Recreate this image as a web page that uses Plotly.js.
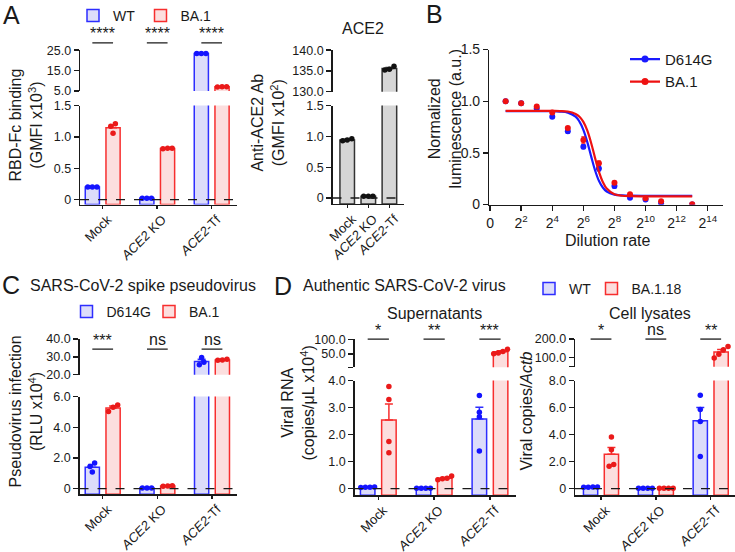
<!DOCTYPE html>
<html><head><meta charset="utf-8">
<script src="https://cdn.plot.ly/plotly-3.0.1.min.js"></script>
<style>html,body{margin:0;padding:0;background:#fff;}#chart{width:735px;height:552px;}</style>
</head><body><div id="chart"></div>
<script>
// ================= DATA =================
const groupCats = ['Mock', '<i>ACE2</i> KO', '<i>ACE2</i>-Tf'];

// A (left): RBD-Fc binding, GMFI x10^3, replicates per group
const rbdWT  = [[0.20, 0.20, 0.20], [0.02, 0.02, 0.02], [23.3, 23.4, 23.3]];
const rbdBA1 = [[1.21, 1.17, 1.06], [0.82, 0.81, 0.82], [7.1, 7.0, 7.1]];
const sigA = ['****', '****', '****'];

// A (right): anti-ACE2 Ab, GMFI x10^2
const ace2Ab = [[0.96, 0.94, 0.93], [0.03, 0.03, 0.03], [136.1, 135.4, 135.2]];

// B: normalized luminescence vs dilution (exponent of 2)
const dilutionExp = [1, 2, 3, 4, 5, 6, 7, 8, 9, 10, 11, 13];
const lumD614G    = [1.00, 0.98, 0.93, 0.85, 0.71, 0.56, 0.35, 0.18, 0.065, 0.05, 0.01, 0.0];
const lumD614GErr = [0.005, 0.005, 0.01, 0.015, 0.02, 0.02, 0.025, 0.02, 0.01, 0.01, 0.01, 0.0];
const lumBA1      = [1.00, 0.98, 0.95, 0.89, 0.74, 0.625, 0.40, 0.21, 0.10, 0.06, 0.032, 0.004];
const lumBA1Err   = [0.005, 0.005, 0.01, 0.01, 0.015, 0.03, 0.02, 0.015, 0.01, 0.01, 0.01, 0.0];
const fitExp      = [1, 2, 3, 4, 4.5, 5, 5.5, 5.75, 6, 6.25, 6.5, 6.75, 7, 7.25, 7.5, 8, 8.5, 9, 10, 11, 12, 13];
const fitD614G    = [0.904, 0.904, 0.904, 0.903, 0.900, 0.890, 0.851, 0.803, 0.723, 0.607, 0.466, 0.332, 0.230, 0.165, 0.126, 0.096, 0.089, 0.086, 0.085, 0.085, 0.085, 0.085];
const fitBA1      = [0.907, 0.907, 0.907, 0.906, 0.905, 0.900, 0.877, 0.850, 0.800, 0.717, 0.596, 0.452, 0.319, 0.219, 0.155, 0.100, 0.085, 0.081, 0.080, 0.080, 0.080, 0.080];
const dilutionTicks = [0, 2, 4, 6, 8, 10, 12, 14];

// C: pseudovirus infection, RLU x10^4
const pvD614G = [[1.08, 1.66, 1.44], [0.04, 0.04, 0.04], [25.6, 29.7, 27.0]];
const pvBA1   = [[5.45, 5.30, 5.03], [0.15, 0.18, 0.16], [28.6, 28.2, 28.1]];
const sigC = ['***', 'ns', 'ns'];

// D: authentic virus, supernatants (copies/uL x10^4) and cell lysates (copies/Actb)
const supWT = [[0.05, 0.04, 0.06, 0.05], [0.01, 0.01, 0.01, 0.01], [3.45, 2.83, 2.66, 1.39]];
const supBA = [[3.78, 3.30, 1.74, 1.33], [0.33, 0.36, 0.38, 0.47], [59, 51, 54, 66]];
const sigSup = ['*', '**', '***'];
const lysWT = [[0.10, 0.12, 0.10, 0.12], [0.02, 0.02, 0.02, 0.02], [6.91, 5.86, 4.98, 2.37]];
const lysBA = [[3.83, 2.88, 1.66, 1.78], [0.03, 0.03, 0.03, 0.03], [97, 160, 118, 142]];
const sigLys = ['*', 'ns', '**'];

// ================= STYLE / LAYOUT =================
const W = 735, H = 552;
const X = p => p / W, Y = p => 1 - p / H;
const FONT = 'Arial, "Liberation Sans", Helvetica, sans-serif';
const INK = '#1a1a1a';
const blue = {line: '#2d2dff', fill: '#dcdcfa', dot: '#1414ff'};
const red  = {line: '#f72e2e', fill: '#fcdede', dot: '#ea1a1a'};
const grey = {line: '#333333', fill: '#d6d6d6', dot: '#111111'};

const mean = a => a.reduce((s, v) => s + v, 0) / a.length;
const sem = a => { const m = mean(a); const v = a.reduce((s, x) => s + (x - m) * (x - m), 0) / (a.length - 1); return Math.sqrt(v / a.length); };
const axName = r => r[0] + 'axis' + r.slice(1);

function swarmX(vals, center, pxY, pxX, gap) {
  const order = vals.map((v, i) => i).sort((a, b) => vals[a] - vals[b]);
  const xs = new Array(vals.length).fill(center);
  let cl = [order[0]];
  const flush = () => cl.forEach((idx, j) => { xs[idx] = center + (j - (cl.length - 1) / 2) * gap / pxX; });
  for (let k = 1; k < order.length; k++) {
    if ((vals[order[k]] - vals[order[k - 1]]) * pxY < gap) cl.push(order[k]);
    else { flush(); cl = [order[k]]; }
  }
  flush();
  return xs;
}

const axisBase = {showgrid: false, zeroline: false, showline: true, linecolor: INK, linewidth: 1.4,
  ticks: 'outside', tickcolor: INK, tickwidth: 1.4, ticklen: 5, fixedrange: true,
  tickfont: {family: FONT, size: 12.5, color: INK}};

const layout = {width: W, height: H, margin: {l: 0, r: 0, t: 0, b: 0}, paper_bgcolor: '#fff', plot_bgcolor: 'rgba(0,0,0,0)',
  font: {family: FONT, color: INK, size: 13}, barmode: 'overlay', showlegend: true, annotations: [], shapes: []};
const traces = [];

const barPanels = [
  {x: 'x', lo: 'y', hi: 'y2', legends: ['legend', 'legend5'], xdom: [80, 236.7], xr: [-0.4165, 2.459],
   loS: {dom: [203.3, 104], r: [-0.08, 1.5], tv: [0, 0.5, 1, 1.5], tt: ['0', '0.5', '1.0', '1.5']},
   hiS: {dom: [89.3, 48.3], r: [5, 25], tv: [5, 15, 25], tt: ['5.0', '15.0', '25.0']},
   series: [{name: 'WT', data: rbdWT, col: blue}, {name: 'BA.1', data: rbdBA1, col: red}], sig: sigA, sigY: 41},
  {x: 'x2', lo: 'y3', hi: 'y4', legends: null, xdom: [332.5, 404], xr: [-0.697, 2.692],
   loS: {dom: [202.7, 104], r: [-0.097, 1.5], tv: [0, 0.5, 1, 1.5], tt: ['0', '0.5', '1.0', '1.5']},
   hiS: {dom: [90, 48.3], r: [130, 140], tv: [130, 135, 140], tt: ['130.0', '135.0', '140.0']},
   series: [{name: 'ACE2', data: ace2Ab, col: grey}], sig: null},
  {x: 'x4', lo: 'y6', hi: 'y7', legends: ['legend3', 'legend6'], xdom: [79.5, 236.7], xr: [-0.4245, 2.452],
   loS: {dom: [494, 396], r: [-0.37, 6], tv: [0, 2, 4, 6], tt: ['0', '2.0', '4.0', '6.0']},
   hiS: {dom: [374, 338.3], r: [20, 40], tv: [20, 30, 40], tt: ['20.0', '30.0', '40.0']},
   series: [{name: 'D614G', data: pvD614G, col: blue}, {name: 'BA.1', data: pvBA1, col: red}], sig: sigC, sigY: 348.3},
  {x: 'x5', lo: 'y8', hi: 'y9', legends: ['legend4', 'legend7'], xdom: [354.5, 516], xr: [-0.426, 2.466],
   loS: {dom: [495, 380], r: [-0.245, 4], tv: [0, 1, 2, 3, 4], tt: ['0', '1.0', '2.0', '3.0', '4.0']},
   hiS: {dom: [366.7, 338.5], r: [5, 100], tv: [5, 50, 100], tt: [' ', '50.0', '100.0']},
   series: [{name: 'WT', data: supWT, col: blue}, {name: 'BA.1.18', data: supBA, col: red}], sig: sigSup, sigY: 338.3},
  {x: 'x6', lo: 'y10', hi: 'y11', legends: null, xdom: [575, 735], xr: [-0.474, 2.443],
   loS: {dom: [495, 380], r: [-0.49, 8], tv: [0, 2, 4, 6, 8], tt: ['0', '2.0', '4.0', '6.0', '8.0']},
   hiS: {dom: [366, 338.3], r: [50, 200], tv: [50, 100, 200], tt: [' ', '100.0', '200.0']},
   series: [{name: 'WT', data: lysWT, col: blue}, {name: 'BA.1.18', data: lysBA, col: red}], sig: sigLys, sigY: 338.3}
];

barPanels.forEach(P => {
  layout[axName(P.x)] = Object.assign({}, axisBase, {domain: [X(P.xdom[0]), X(P.xdom[1])], range: P.xr, anchor: P.lo,
    tickmode: 'array', tickvals: [0, 1, 2], ticktext: groupCats, tickangle: -45, ticklen: 3,
    ticklabelstandoff: -2, ticklabelshift: 5,
    tickfont: {family: FONT, size: 13, color: INK}});
  [[P.lo, P.loS], [P.hi, P.hiS]].forEach(([ref, S]) => {
    layout[axName(ref)] = Object.assign({}, axisBase, {domain: [Y(S.dom[0]), Y(S.dom[1])], range: S.r, anchor: P.x,
      tickmode: 'array', tickvals: S.tv, ticktext: S.tt});
  });
  const pxX = (P.xdom[1] - P.xdom[0]) / (P.xr[1] - P.xr[0]);
  const pxLo = (P.loS.dom[0] - P.loS.dom[1]) / (P.loS.r[1] - P.loS.r[0]);
  const pxHi = (P.hiS.dom[0] - P.hiS.dom[1]) / (P.hiS.r[1] - P.hiS.r[0]);
  const two = P.series.length === 2;
  const bw = two ? 0.26 : 0.69, half = two ? 0.19 : 0;
  const base = P.loS.r[0];
  P.series.forEach((s, k) => {
    const c = two ? (k === 0 ? -half : half) : 0;
    const means = s.data.map(mean), sems = s.data.map(sem);
    const inHi = means.map(m => m > P.loS.r[1]);          // group belongs to the upper (broken) section
    [P.lo, P.hi].forEach((yref, yi) => {
      // bars: every bar in the lower section, only the tall ones in the upper section
      const bIdx = means.map((m, i) => i).filter(i => yi === 0 || inHi[i]);
      if (bIdx.length) {
        const t = {type: 'bar', x: bIdx, y: bIdx.map(i => means[i] - base), base: base, width: bw, offset: c - bw / 2,
          xaxis: P.x, yaxis: yref, name: s.name, showlegend: !!P.legends && yi === 0, hoverinfo: 'skip',
          marker: {color: s.col.fill, line: {color: s.col.line, width: 1.5}}};
        if (P.legends) t.legend = P.legends[k];
        traces.push(t);
      }
      // error bars and replicate dots: drawn in the section where the group lies
      const gIdx = means.map((m, i) => i).filter(i => inHi[i] === (yi === 1));
      if (!gIdx.length) return;
      traces.push({type: 'scatter', mode: 'markers', x: gIdx.map(i => i + c), y: gIdx.map(i => means[i]),
        xaxis: P.x, yaxis: yref, showlegend: false, hoverinfo: 'skip', marker: {size: 2, opacity: 0},
        error_y: {type: 'data', symmetric: false, array: gIdx.map(i => sems[i]), arrayminus: gIdx.map(() => 0),
          color: s.col.line, thickness: 1.5, width: 4}});
      const dx = [], dy = [];
      gIdx.forEach(i => {
        const vals = s.data[i];
        const xs = swarmX(vals, i + c, yi === 1 ? pxHi : pxLo, pxX, 4.6);
        vals.forEach((v, j) => { dx.push(xs[j]); dy.push(v); });
      });
      traces.push({type: 'scatter', mode: 'markers', x: dx, y: dy, xaxis: P.x, yaxis: yref, showlegend: false, hoverinfo: 'skip',
        marker: {size: 5.5, color: s.col.dot}});
    });
  });
  layout.shapes.push({type: 'line', xref: P.x + ' domain', yref: P.lo, x0: 0, x1: 1, y0: 0, y1: 0,
    line: {color: INK, width: 1.3, dash: 'dash'}});
  if (P.sig) P.sig.forEach((lab, i) => {
    layout.shapes.push({type: 'line', xref: P.x, yref: 'paper', x0: i - half, x1: i + half, y0: Y(P.sigY), y1: Y(P.sigY),
      line: {color: INK, width: 1.3}});
    layout.annotations.push({xref: P.x, yref: 'paper', x: i, y: Y(P.sigY - (lab === 'ns' ? 10 : 9)), text: lab,
      showarrow: false, xanchor: 'center', yanchor: 'middle', font: {family: FONT, size: 16, color: INK}});
  });
});

// ---- Panel B ----
layout.xaxis3 = Object.assign({}, axisBase, {domain: [X(489.3), X(723.3)], range: [-0.05, 15], anchor: 'y5',
  tickmode: 'array', tickvals: dilutionTicks, ticktext: dilutionTicks.map(e => e === 0 ? '0' : '2<sup>' + e + '</sup>'),
  tickfont: {family: FONT, size: 14, color: INK}});
layout.yaxis5 = Object.assign({}, axisBase, {domain: [Y(203.3), Y(47.7)], range: [0, 1.5], anchor: 'x3',
  tickmode: 'array', tickvals: [0, 0.5, 1, 1.5], ticktext: ['0', '0.5', '1.0', '1.5'],
  tickfont: {family: FONT, size: 14, color: INK}});
const bBlue = '#1a1aff', bRed = '#ee1111';
traces.push({type: 'scatter', mode: 'markers', x: dilutionExp, y: lumD614G, xaxis: 'x3', yaxis: 'y5', showlegend: false, hoverinfo: 'skip',
  marker: {size: 6, color: bBlue}, error_y: {type: 'data', array: lumD614GErr, color: bBlue, thickness: 1.2, width: 2}});
traces.push({type: 'scatter', mode: 'lines', x: fitExp, y: fitD614G, xaxis: 'x3', yaxis: 'y5', showlegend: false, hoverinfo: 'skip',
  line: {color: bBlue, width: 2.2, shape: 'spline'}});
traces.push({type: 'scatter', mode: 'markers', x: dilutionExp, y: lumBA1, xaxis: 'x3', yaxis: 'y5', showlegend: false, hoverinfo: 'skip',
  marker: {size: 6, color: bRed}, error_y: {type: 'data', array: lumBA1Err, color: bRed, thickness: 1.2, width: 2}});
traces.push({type: 'scatter', mode: 'lines', x: fitExp, y: fitBA1, xaxis: 'x3', yaxis: 'y5', showlegend: false, hoverinfo: 'skip',
  line: {color: bRed, width: 2.2, shape: 'spline'}});
// legend entries (line + marker) for panel B
traces.push({type: 'scatter', mode: 'lines+markers', x: [null], y: [null], xaxis: 'x3', yaxis: 'y5', name: 'D614G', legend: 'legend2',
  line: {color: bBlue, width: 2.2}, marker: {size: 7, color: bBlue}});
traces.push({type: 'scatter', mode: 'lines+markers', x: [null], y: [null], xaxis: 'x3', yaxis: 'y5', name: 'BA.1', legend: 'legend2',
  line: {color: bRed, width: 2.2}, marker: {size: 7, color: bRed}});

// ---- Legends (one per entry so each sits where the original puts it) ----
const legBase = {bgcolor: 'rgba(0,0,0,0)', borderwidth: 0, xanchor: 'left', yanchor: 'top', orientation: 'h',
  font: {family: FONT, size: 14, color: INK}, itemclick: false, itemdoubleclick: false};
const leg = (x, y, extra) => Object.assign({}, legBase, {x: X(x), y: Y(y)}, extra || {});
layout.legend  = leg(73, -2);
layout.legend5 = leg(140.5, -2);
layout.legend3 = leg(66.5, 295);
layout.legend6 = leg(149, 295);
layout.legend4 = leg(529, 272);
layout.legend7 = leg(591.5, 272);
layout.legend2 = leg(625, 41, {orientation: 'v', font: {family: FONT, size: 15, color: INK}});

// ---- Text: panel letters, titles, axis titles ----
function txt(x, y, text, size, opts) {
  layout.annotations.push(Object.assign({xref: 'paper', yref: 'paper', x: X(x), y: Y(y), text: text, showarrow: false,
    xanchor: 'center', yanchor: 'middle', font: {family: FONT, size: size, color: INK}}, opts || {}));
}
txt(1, 13, 'A', 25, {xanchor: 'left'});
txt(424, 12, 'B', 25, {xanchor: 'left'});
txt(0, 284, 'C', 25, {xanchor: 'left'});
txt(272, 285, 'D', 25, {xanchor: 'left'});
txt(363, 27, 'ACE2', 16);
txt(28, 285, 'SARS-CoV-2 spike pseudovirus', 16, {xanchor: 'left'});
txt(301, 285, 'Authentic SARS-CoV-2 virus', 16, {xanchor: 'left'});
txt(434, 313, 'Supernatants', 16);
txt(650, 313, 'Cell lysates', 16);
txt(607, 239, 'Dilution rate', 16);
txt(26, 124, 'RBD-Fc binding<br>(GMFI x10<sup>3</sup>)', 16, {textangle: -90});
txt(268, 121, 'Anti-ACE2 Ab<br>(GMFI x10<sup>2</sup>)', 16, {textangle: -90});
txt(445, 117, 'Normalized<br>luminescence (a.u.)', 16, {textangle: -90});
txt(26, 411, 'Pseudovirus infection<br>(RLU x10<sup>4</sup>)', 16, {textangle: -90});
txt(298, 403, 'Viral RNA<br>(copies/\u03bcL x10<sup>4</sup>)', 16, {textangle: -90});
txt(527, 411, 'Viral copies/<i>Actb</i>', 16, {textangle: -90});

Plotly.newPlot('chart', traces, layout, {staticPlot: true, displayModeBar: false});
</script>
</body></html>
